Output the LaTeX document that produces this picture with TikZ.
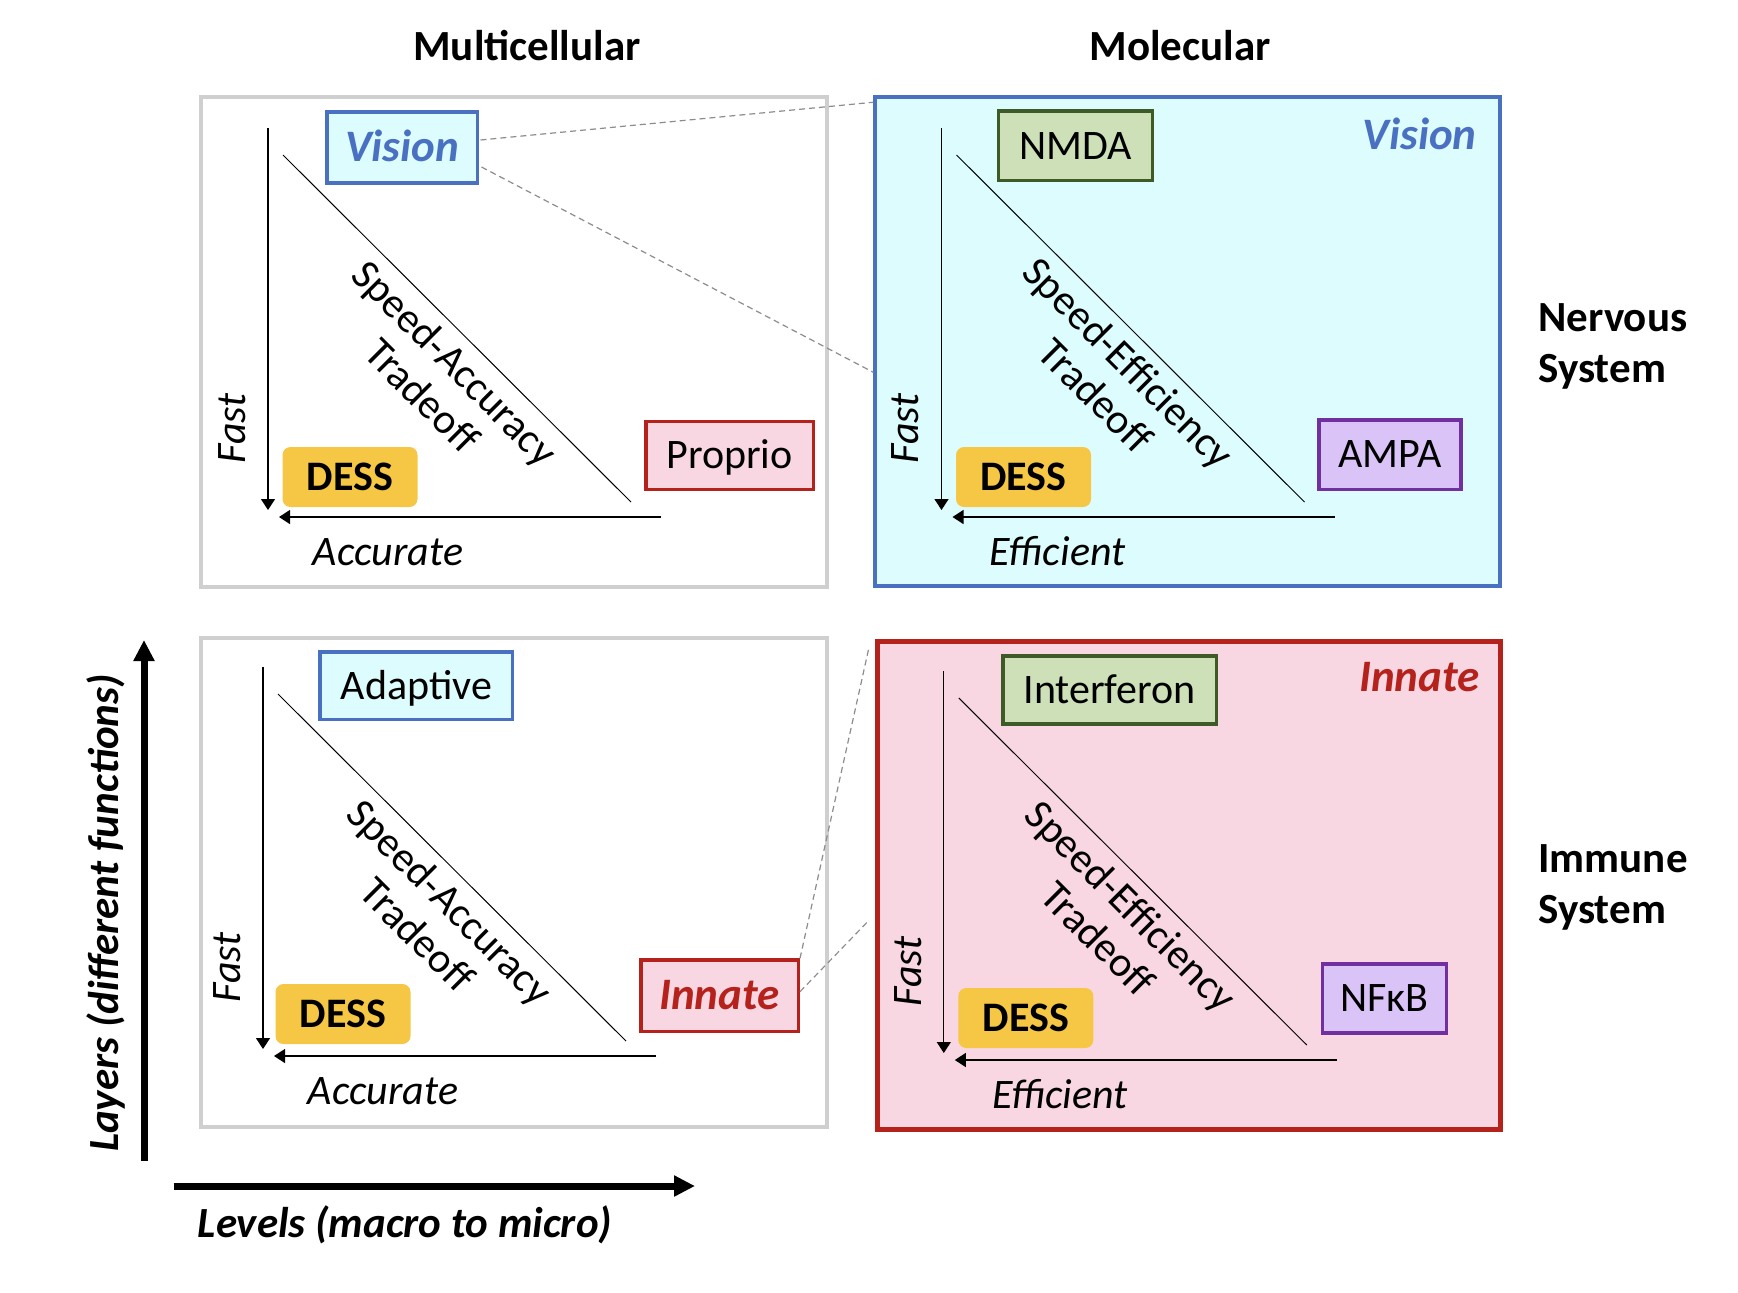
\documentclass[tikz,border=0pt]{standalone}
\usepackage{fontspec}
\setmainfont{Carlito}
\usetikzlibrary{arrows.meta, positioning, calc}

\definecolor{panelgray}{HTML}{CFCFCF}
\definecolor{visionblue}{HTML}{4A70C2}
\definecolor{visionfill}{HTML}{DDFCFD}
\definecolor{innatered}{HTML}{B5221C}
\definecolor{innatefill}{HTML}{F8D7E3}
\definecolor{dessgold}{HTML}{F6C744}
\definecolor{receptorfill}{HTML}{CDE0B8}
\definecolor{receptordraw}{HTML}{3E5A27}
\definecolor{channelfill}{HTML}{DAC3F7}
\definecolor{channeldraw}{HTML}{7030A0}
\definecolor{zoomgray}{HTML}{8C8C8C}

\newcommand{\labelsize}{\fontsize{21}{23.25}\selectfont}
\newcommand{\titlesize}{\fontsize{21.5}{25.5}\selectfont}
\newcommand{\tagsize}{\fontsize{22.5}{24}\selectfont}

\tikzstyle{panel_box} = [rectangle, inner sep=0pt]
\tikzstyle{tag_box} = [rectangle, draw, line width=1.75pt, inner sep=0pt, text height=13.3pt, text depth=0pt, font=\labelsize]
\tikzstyle{dess_box} = [rectangle, rounded corners=4pt, fill=dessgold, minimum width=67.5pt, minimum height=30pt, inner sep=0pt, text height=13.3pt, text depth=0pt, font=\bfseries\labelsize]
\tikzstyle{axis_arrow} = [line width=0.6pt, -{Triangle[width=7pt, length=5.5pt]}]
\tikzstyle{big_arrow} = [line width=3.5pt, -{Triangle[width=10pt, length=10.5pt]}]
\tikzstyle{trade_line} = [line width=0.5pt]
\tikzstyle{zoom_line} = [draw=zoomgray, line width=0.6pt, dash pattern=on 3pt off 2pt]
\tikzstyle{fast_label} = [rotate=90, inner sep=0pt, font=\itshape\labelsize]
\tikzstyle{axis_label} = [inner sep=0pt, font=\itshape\labelsize]
\tikzstyle{trade_text} = [rotate=-45, align=center, inner sep=0pt, font=\labelsize]
\tikzstyle{title_text} = [inner sep=0pt, font=\bfseries\titlesize]
\tikzstyle{corner_label} = [inner sep=0pt, font=\bfseries\itshape\tagsize]

\begin{document}
\begin{tikzpicture}[x=0.5pt, y=-0.5pt]
    \useasboundingbox (0,0) rectangle (1738,1292);

    % column and row titles
    \node (title_mc) [title_text, anchor=base] at (527,60) {Multicellular};
    \node (title_mol) [title_text, anchor=base] at (1180,60) {Molecular};
    \node (title_nerv) [title_text, align=left, anchor=west] at (1538,346) {Nervous\\System};
    \node (title_imm) [title_text, align=left, anchor=west] at (1538,887) {Immune\\System};

    % the four panels
    \node (cellnerv) [panel_box, draw=panelgray, line width=2pt, minimum width=313pt, minimum height=245pt] at (514,342) {};
    \node (molnerv) [panel_box, draw=visionblue, fill=visionfill, line width=1.75pt, minimum width=312.5pt, minimum height=244.5pt] at (1187.5,341.5) {};
    \node (cellimm) [panel_box, draw=panelgray, line width=2pt, minimum width=313pt, minimum height=244.5pt] at (514,882.5) {};
    \node (molimm) [panel_box, draw=innatered, fill=innatefill, line width=2.5pt, minimum width=311.25pt, minimum height=243.6pt] at (1188.75,885.4) {};

    % multicellular, nervous system
    \begin{scope}[shift={(201,97)}]
        \coordinate (fast_a_top) at (67,31);
        \coordinate (fast_a_end) at (67,413);
        \coordinate (acc_a_start) at (460,420);
        \coordinate (acc_a_end) at (78,420);
        \coordinate (trade_a_top) at (82,58);
        \coordinate (trade_a_end) at (430,405);
        \draw [axis_arrow] (fast_a_top) -- (fast_a_end);
        \draw [axis_arrow] (acc_a_start) -- (acc_a_end);
        \draw [trade_line] (trade_a_top) -- (trade_a_end);
        \node (fast_a) [fast_label] at (31,331.5) {Fast};
        \node (acc_a) [axis_label, anchor=base] at (187,468) {Accurate};
        \node (dess_a) [dess_box] at (149,380) {DESS};
        \node (trade_a) [trade_text] at (238,282) {Speed-Accuracy\\Tradeoff};
    \end{scope}

    % molecular, nervous system
    \begin{scope}[shift={(874.5,97)}]
        \coordinate (fast_b_top) at (67,31);
        \coordinate (fast_b_end) at (67,413);
        \coordinate (eff_b_start) at (460,420);
        \coordinate (eff_b_end) at (78,420);
        \coordinate (trade_b_top) at (82,58);
        \coordinate (trade_b_end) at (430,405);
        \draw [axis_arrow] (fast_b_top) -- (fast_b_end);
        \draw [axis_arrow] (eff_b_start) -- (eff_b_end);
        \draw [trade_line] (trade_b_top) -- (trade_b_end);
        \node (fast_b) [fast_label] at (31,331.5) {Fast};
        \node (eff_b) [axis_label, anchor=base] at (183,468) {Efficient};
        \node (dess_b) [dess_box] at (149,380) {DESS};
        \node (trade_b) [trade_text] at (238,282) {Speed-Efficiency\\Tradeoff};
    \end{scope}

    % multicellular, immune system
    \begin{scope}[shift={(196,636)}]
        \coordinate (fast_c_top) at (67,31);
        \coordinate (fast_c_end) at (67,413);
        \coordinate (acc_c_start) at (460,420);
        \coordinate (acc_c_end) at (78,420);
        \coordinate (trade_c_top) at (82,58);
        \coordinate (trade_c_end) at (430,405);
        \draw [axis_arrow] (fast_c_top) -- (fast_c_end);
        \draw [axis_arrow] (acc_c_start) -- (acc_c_end);
        \draw [trade_line] (trade_c_top) -- (trade_c_end);
        \node (fast_c) [fast_label] at (31,331.5) {Fast};
        \node (acc_c) [axis_label, anchor=base] at (187,468) {Accurate};
        \node (dess_c) [dess_box] at (147,378) {DESS};
        \node (trade_c) [trade_text] at (238,282) {Speed-Accuracy\\Tradeoff};
    \end{scope}

    % molecular, immune system
    \begin{scope}[shift={(876.8,640)}]
        \coordinate (fast_d_top) at (67,31);
        \coordinate (fast_d_end) at (67,413);
        \coordinate (eff_d_start) at (460,420);
        \coordinate (eff_d_end) at (78,420);
        \coordinate (trade_d_top) at (82,58);
        \coordinate (trade_d_end) at (430,405);
        \draw [axis_arrow] (fast_d_top) -- (fast_d_end);
        \draw [axis_arrow] (eff_d_start) -- (eff_d_end);
        \draw [trade_line] (trade_d_top) -- (trade_d_end);
        \node (fast_d) [fast_label] at (31,331.5) {Fast};
        \node (eff_d) [axis_label, anchor=base] at (183,468) {Efficient};
        \node (dess_d) [dess_box] at (149,378) {DESS};
        \node (trade_d) [trade_text] at (238,282) {Speed-Efficiency\\Tradeoff};
    \end{scope}

    % labelled boxes
    \node (vision_mc) [tag_box, draw=visionblue, fill=visionfill, text=visionblue, font=\bfseries\itshape\tagsize, text height=14.2pt, minimum width=75.25pt, minimum height=35.4pt] at (402,147.5) {Vision};
    \node (proprio) [tag_box, draw=innatered, fill=innatefill, minimum width=83.75pt, minimum height=34pt] at (729.5,455.25) {Proprio};
    \node (nmda) [tag_box, draw=receptordraw, fill=receptorfill, minimum width=76.9pt, minimum height=34.75pt] at (1075.35,145.8) {NMDA};
    \node (ampa) [tag_box, draw=channeldraw, fill=channelfill, minimum width=70.95pt, minimum height=34.6pt] at (1390,454.65) {AMPA};
    \node (adaptive) [tag_box, draw=visionblue, fill=visionfill, minimum width=96.3pt, minimum height=33.95pt] at (416.35,685.7) {Adaptive};
    \node (innate_mc) [tag_box, draw=innatered, fill=innatefill, text=innatered, font=\bfseries\itshape\tagsize, text height=14.2pt, minimum width=78.75pt, minimum height=35.6pt] at (719.5,995.65) {Innate};
    \node (interferon) [tag_box, draw=receptordraw, fill=receptorfill, minimum width=106.85pt, minimum height=34pt] at (1109.6,689.75) {Interferon};
    \node (nfkb) [tag_box, draw=channeldraw, fill=channelfill, minimum width=61.85pt, minimum height=34.3pt] at (1384.4,998.45) {NFκB};

    \node (vision_mol) [corner_label, text=visionblue, anchor=base east] at (1477,149) {Vision};
    \node (innate_mol) [corner_label, text=innatered, anchor=base east] at (1480,691) {Innate};

    % zoom lines
    \coordinate (nerv_zoom_top) at ($(molnerv.north west)+(0,7)$);
    \coordinate (nerv_zoom_low) at ($(molnerv.north west)+(0,277)$);
    \coordinate (imm_zoom_top) at ($(molimm.north west)+(-6,8)$);
    \coordinate (imm_zoom_low) at ($(molimm.north west)+(-8,283)$);
    \draw [zoom_line] ($(vision_mc.east)+(1.5,-7.5)$) -- (nerv_zoom_top);
    \draw [zoom_line] ($(vision_mc.east)+(2.5,19.5)$) -- (nerv_zoom_low);
    \draw [zoom_line] (innate_mc.north east) -- (imm_zoom_top);
    \draw [zoom_line] ($(innate_mc.east)+(0,-4)$) -- (imm_zoom_low);

    % axes of the grid
    \coordinate (layer_foot) at (144,1161);
    \coordinate (layer_tip) at (144,640);
    \coordinate (level_foot) at (173.5,1186);
    \coordinate (level_tip) at (695,1186);
    \draw [big_arrow] (layer_foot) -- (layer_tip);
    \draw [big_arrow] (level_foot) -- (level_tip);
    \node (layers) [rotate=90, inner sep=0pt, font=\bfseries\itshape\titlesize] at (106,913) {Layers (different functions)};
    \node (levels) [anchor=base, inner sep=0pt, font=\bfseries\itshape\titlesize] at (405,1237) {Levels (macro to micro)};
\end{tikzpicture}
\end{document}
